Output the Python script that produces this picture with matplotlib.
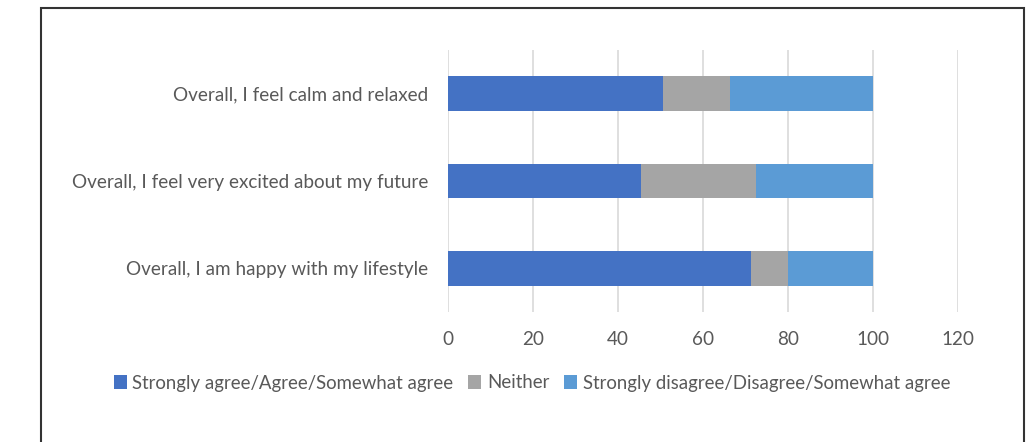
import matplotlib.pyplot as plt
from matplotlib.patches import Rectangle

# survey statements (bottom to top as drawn)
statements = ["Overall, I am happy with my lifestyle",
              "Overall, I feel very excited about my future",
              "Overall, I feel calm and relaxed"]
agree = [71.3, 45.5, 50.7]
neither = [8.6, 27.0, 15.7]
disagree = [20.1, 27.5, 33.6]

series_names = ["Strongly agree/Agree/Somewhat agree",
                "Neither",
                "Strongly disagree/Disagree/Somewhat agree"]
colors = ["#4472C4", "#A5A5A5", "#5B9BD5"]
xticks = [0, 20, 40, 60, 80, 100, 120]

plt.rcParams['font.family'] = ['Lato', 'DejaVu Sans']
text_color = "#595959"

fig = plt.figure(figsize=(10.35, 4.42), dpi=100)
ax = fig.add_axes([448/1035, 1 - 312/442, 510/1035, 262/442])

y = range(len(statements))
left = [0] * len(statements)
for vals, name, col in zip([agree, neither, disagree], series_names, colors):
    ax.barh(y, vals, left=left, height=0.4, color=col, label=name, zorder=3)
    left = [a + b for a, b in zip(left, vals)]

ax.set_xlim(0, 120)
ax.set_ylim(-0.5, 2.5)
ax.set_xticks(xticks)
ax.set_yticks(list(y))
ax.set_yticklabels(statements)
ax.tick_params(axis='both', length=0, labelsize=13.6, colors=text_color)
ax.tick_params(axis='y', pad=14)
ax.tick_params(axis='x', pad=14)
ax.grid(axis='x', color="#d9d9d9", linewidth=1.2, zorder=0)
for s in ax.spines.values():
    s.set_visible(False)

fig.legend(loc='center', bbox_to_anchor=(532/1035, 1 - 383/442), ncol=3,
           frameon=False, fontsize=13.4, labelcolor=text_color,
           handlelength=0.7, handleheight=0.7, handletextpad=0.3, columnspacing=0.8)

# outer chart border (bottom edge runs off the picture)
fig.patches.append(Rectangle((41/1035, -0.05), 983/1035, 1.05 - 8/442,
                             transform=fig.transFigure, fill=False,
                             edgecolor="#333333", linewidth=1.5))

fig.savefig("out.png", dpi=100)
